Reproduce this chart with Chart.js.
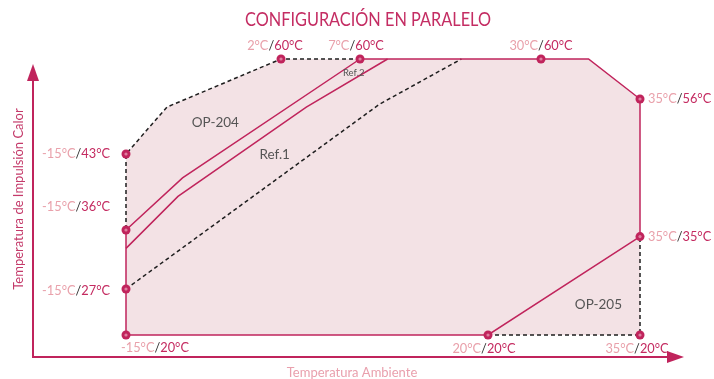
<!DOCTYPE html>
<html>
<head>
<meta charset="utf-8">
<style>
  html, body { margin: 0; padding: 0; background: #fff; }
  #wrap { width: 714px; height: 379px; position: relative; }
</style>
<script src="https://cdn.jsdelivr.net/npm/chart.js@4.4.1/dist/chart.umd.min.js"></script>
</head>
<body>
<div id="wrap"><canvas id="myChart"></canvas></div>
<script>
// labelled corners: ambient temp / supply temp (°C)
var cornerAmb = [-15, -15, -15, -15, 2, 7, 30, 35, 35, 20, 35];
var cornerSup = [20, 27, 36, 43, 60, 60, 60, 56, 35, 20, 20];

// solid envelope outline
var limitAmb = [-15, -15, 20, 35, 35, 32.4, 7];
var limitSup = [36, 20, 20, 35, 56, 60, 60];

// OP-204 extension (dashed)
var op204Amb = [7, 2, -10.5, -15, -15];
var op204Sup = [60, 60, 54.1, 43, 36];

// OP-205 extension (dashed)
var op205Amb = [20, 35, 35];
var op205Sup = [20, 20, 35];

// shaded area, upper edge
var areaAmb = [-15, -10.5, 2, 32.4, 35];
var areaSup = [43, 54.1, 60, 60, 56];

// reference curves
var ref2Amb = [-15, -8.8, 7];
var ref2Sup = [36, 40.8, 60];
var ref1Amb = [-15, -9.3, 3.6, 9.8];
var ref1Sup = [33.2, 39.1, 54.1, 60];

// lower dashed limit
var lowAmb = [-15, 9.0, 17.3];
var lowSup = [27, 54.8, 60];

// text notes inside the diagram
var noteText = ['OP-204', 'Ref.1', 'Ref.2', 'OP-205'];
var noteAmb = [-5.2, 1.3, 6.6, 32.9];
var noteSup = [50.3, 42.9, 58.6, 24.6];

// the diagram is not to scale: axis breakpoints and where they sit (0..1)
var ambStops = [-15, 2, 7, 20, 30, 35];
var ambPos = [0, 0.3016, 0.4553, 0.7043, 0.8074, 1];
var supStops = [20, 27, 36, 43, 56, 60];
var supPos = [0, 0.1667, 0.3804, 0.6558, 0.8551, 1];

// label placement for each corner: align, dx, dy
var labelPlace = [
    ['left', -5, 13], ['right', -16, 2], ['right', -16, -23], ['right', -16, 0],
    ['center', -6, -13], ['center', -4, -13], ['center', 0, -13],
    ['left', 8, 0], ['left', 8, 0], ['center', -4, 14], ['center', -3, 14]
];

var CRIMSON = '#c0245c';
var FONT = 'Lato, "Noto Sans", sans-serif';

function pts(xs, ys) {
    var out = [];
    for (var i = 0; i < xs.length; i++) out.push({ x: xs[i], y: ys[i] });
    return out;
}

function toDecimal(stops, pos, v) {
    var i = 1;
    while (i < stops.length - 1 && v > stops[i]) i++;
    var t = (v - stops[i - 1]) / (stops[i] - stops[i - 1]);
    return pos[i - 1] + t * (pos[i] - pos[i - 1]);
}

class SchematicScale extends Chart.LinearScale {
    getPixelForValue(value) {
        if (this.axis === 'x') return this.getPixelForDecimal(toDecimal(ambStops, ambPos, value));
        return this.getPixelForDecimal(toDecimal(supStops, supPos, value));
    }
}
SchematicScale.id = 'schematic';
SchematicScale.defaults = Chart.LinearScale.defaults;
Chart.register(SchematicScale);

function lineSet(data, color, dash, order) {
    return {
        data: data,
        showLine: true,
        borderColor: color,
        borderWidth: 1.5,
        borderDash: dash,
        pointRadius: 0,
        fill: false,
        tension: 0,
        clip: false,
        order: order
    };
}

var drawText = {
    id: 'drawText',
    afterDraw: function (chart) {
        var ctx = chart.ctx;
        var area = chart.chartArea;
        var xs = chart.scales.x, ys = chart.scales.y;
        ctx.save();

        // axes with arrows
        var ax = area.left - 93, ay = area.bottom + 22;
        ctx.strokeStyle = CRIMSON;
        ctx.fillStyle = CRIMSON;
        ctx.lineWidth = 2;
        ctx.beginPath();
        ctx.moveTo(ax, area.top + 21);
        ctx.lineTo(ax, ay);
        ctx.lineTo(area.right + 28, ay);
        ctx.stroke();
        ctx.beginPath();
        ctx.moveTo(ax, area.top + 5);
        ctx.lineTo(ax - 6, area.top + 22);
        ctx.lineTo(ax + 6, area.top + 22);
        ctx.closePath();
        ctx.fill();
        ctx.beginPath();
        ctx.moveTo(area.right + 44, ay);
        ctx.lineTo(area.right + 27, ay - 6);
        ctx.lineTo(area.right + 27, ay + 6);
        ctx.closePath();
        ctx.fill();

        // title
        ctx.textBaseline = 'middle';
        ctx.textAlign = 'center';
        ctx.font = '19px ' + FONT;
        ctx.fillStyle = '#c42d63';
        ctx.fillText('CONFIGURACIÓN EN PARALELO', 368, 20, 246);

        // axis titles
        ctx.font = '13px ' + FONT;
        ctx.fillStyle = '#e9a0ad';
        ctx.fillText('Temperatura Ambiente', 352, 373);
        ctx.save();
        ctx.translate(19, 199);
        ctx.rotate(-Math.PI / 2);
        ctx.fillStyle = '#c43a6a';
        ctx.fillText('Temperatura de Impulsión Calor', 0, 0, 264);
        ctx.restore();

        // corner labels
        ctx.font = '12.8px ' + FONT;
        for (var i = 0; i < cornerAmb.length; i++) {
            var parts = [cornerAmb[i] + '°C', '/', cornerSup[i] + '°C'];
            var colors = ['#e9a1ab', '#333333', '#c42a60'];
            var w = parts.map(function (p) { return ctx.measureText(p).width; });
            var total = w[0] + w[1] + w[2];
            var px = xs.getPixelForValue(cornerAmb[i]) + labelPlace[i][1];
            var py = ys.getPixelForValue(cornerSup[i]) + labelPlace[i][2];
            var start = px;
            if (labelPlace[i][0] === 'right') start = px - total;
            if (labelPlace[i][0] === 'center') start = px - total / 2;
            ctx.textAlign = 'left';
            for (var k = 0; k < 3; k++) {
                ctx.fillStyle = colors[k];
                ctx.fillText(parts[k], start, py);
                start += w[k];
            }
        }

        // notes
        ctx.textAlign = 'center';
        ctx.fillStyle = '#555555';
        for (var n = 0; n < noteText.length; n++) {
            ctx.font = (noteText[n] === 'Ref.2' ? '9.5px ' : '13.5px ') + FONT;
            ctx.fillText(noteText[n], xs.getPixelForValue(noteAmb[n]), ys.getPixelForValue(noteSup[n]));
        }
        ctx.restore();
    }
};

new Chart(document.getElementById('myChart'), {
    type: 'scatter',
    data: {
        datasets: [
            {
                data: pts(areaAmb, areaSup),
                showLine: true,
                borderWidth: 0,
                borderColor: 'rgba(0,0,0,0)',
                backgroundColor: '#f3e2e5',
                pointRadius: 0,
                fill: 'start',
                tension: 0,
                order: 9
            },
            lineSet(pts(limitAmb, limitSup), CRIMSON, [], 5),
            lineSet(pts(op204Amb, op204Sup), '#1e1e1e', [4, 3], 5),
            lineSet(pts(op205Amb, op205Sup), '#1e1e1e', [4, 3], 5),
            lineSet(pts(lowAmb, lowSup), '#1e1e1e', [4, 3], 5),
            lineSet(pts(ref2Amb, ref2Sup), CRIMSON, [], 5),
            lineSet(pts(ref1Amb, ref1Sup), CRIMSON, [], 5),
            {
                data: pts(cornerAmb, cornerSup),
                pointRadius: 4.5,
                pointBackgroundColor: CRIMSON,
                pointBorderWidth: 0,
                clip: false,
                order: 1
            },
            {
                data: pts(cornerAmb, cornerSup),
                pointRadius: 1.6,
                pointBackgroundColor: '#de7fa0',
                pointBorderWidth: 0,
                clip: false,
                order: 0
            }
        ]
    },
    options: {
        responsive: true,
        maintainAspectRatio: false,
        animation: false,
        layout: { padding: { left: 126, right: 74, top: 59, bottom: 44 } },
        plugins: { legend: { display: false }, tooltip: { enabled: false }, title: { display: false } },
        scales: {
            x: { type: 'schematic', display: false, min: -15, max: 35 },
            y: { type: 'schematic', display: false, min: 20, max: 60 }
        }
    },
    plugins: [drawText]
});
</script>
</body>
</html>
